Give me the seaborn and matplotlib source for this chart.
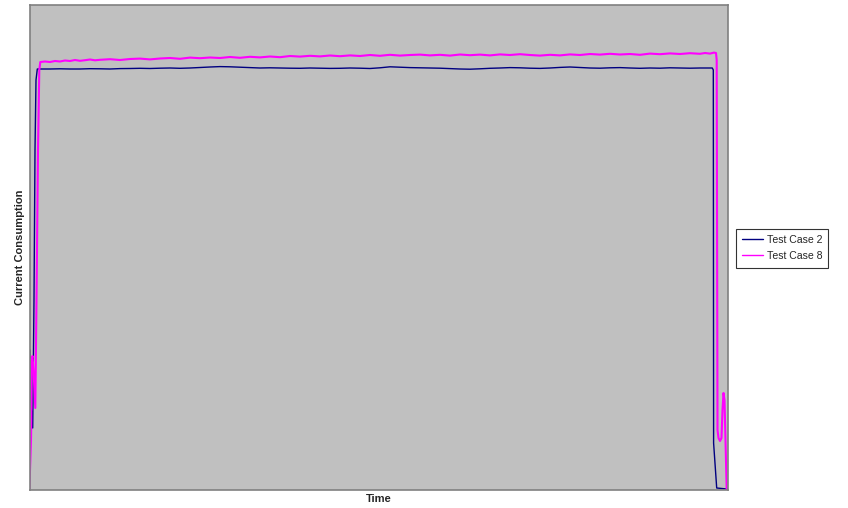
import numpy as np
import pandas as pd
import seaborn as sns
import matplotlib.pyplot as plt

# values, in screen-pixel units (x = time, y from the top)
blue_x = [30, 30.5, 32.7, 34, 35, 36, 37.3,
          40, 50, 60, 70, 80, 90, 100, 110, 120, 130, 140, 150, 160, 170, 180, 190,
          200, 210, 220, 230, 240, 250, 260, 270, 280, 290, 300, 310, 320, 330, 340,
          350, 360, 370, 380, 390, 400, 410, 420, 430, 440, 450, 460, 470, 480, 490,
          500, 510, 520, 530, 540, 550, 560, 570, 580, 590, 600, 610, 620, 630, 640,
          650, 660, 670, 680, 690, 700, 710,
          712.3, 713.3, 713.6, 716.7, 727]
blue_y = [350, 398, 428, 300, 150, 80, 69,
          69, 69, 68.8, 69, 69, 68.7, 68.8, 69, 68.6, 68.5, 68.3, 68.5, 68.2, 68, 68.3, 68,
          67.5, 67, 66.6, 66.8, 67.2, 67.6, 68, 67.8, 68, 68.2, 68.3, 68, 68.2, 68.4, 68.3,
          68, 68.2, 68.5, 67.8, 66.8, 67.2, 67.6, 67.8, 68, 68.2, 68.6, 69, 69.2, 68.8, 68.3,
          68, 67.6, 67.8, 68.2, 68.4, 68, 67.4, 67, 67.5, 68, 68.2, 67.8, 67.6, 68, 68.3,
          68, 68.2, 67.8, 68, 68.2, 68, 68,
          68, 70, 443, 488, 489]

pink_x = [29.3, 30, 31, 31.3, 31.5, 32.5, 33.5, 35.3, 36.5, 38, 39.3, 40.3,
          45, 50, 55, 60, 65, 70, 75, 80, 85, 90, 95, 100, 110, 120, 130, 140, 150,
          160, 170, 180, 190, 200, 210, 220, 230, 240, 250, 260, 270, 280, 290, 300,
          310, 320, 330, 340, 350, 360, 370, 380, 390, 400, 410, 420, 430, 440, 450,
          460, 470, 480, 490, 500, 510, 520, 530, 540, 550, 560, 570, 580, 590, 600,
          610, 620, 630, 640, 650, 660, 670, 680, 690, 700, 705, 710, 714,
          716, 716.7, 717.5, 718.5, 720, 721.5, 722.5, 723.5, 724.5, 725.5, 726.7]
pink_y = [490, 470, 440, 420, 360, 356, 370, 408, 300, 150, 70, 62,
          61.5, 62, 61, 61.5, 60.5, 61, 60, 60.8, 60.2, 59.5, 60.3, 59.8, 59.2, 60, 59, 58.6, 59.4,
          58.5, 58, 58.8, 57.6, 58.2, 57.5, 58, 57, 57.8, 56.8, 57.4, 56.5, 57.2, 56, 56.6,
          55.8, 56.4, 55.5, 56.2, 55.4, 56, 55, 55.8, 54.8, 55.6, 55, 54.6, 55.4, 54.8, 55.6,
          54.5, 55.2, 54.6, 55.4, 54.4, 55, 54.2, 55, 55.6, 54.8, 55.4, 54.4, 55, 54, 54.6,
          53.8, 54.5, 54, 54.8, 53.6, 54.2, 53.4, 54, 53.2, 53.8, 53, 53.6, 52.6,
          53, 60, 430, 438, 441, 438, 410, 393, 400, 440, 490]

names = ["Test Case 2", "Test Case 8"]
colors = ["#000080", "#FF00FF"]

df = pd.concat([
    pd.DataFrame({"Time": np.array(blue_x) - 29.5, "Current": 490 - np.array(blue_y), "series": names[0]}),
    pd.DataFrame({"Time": np.array(pink_x) - 29.5, "Current": 490 - np.array(pink_y), "series": names[1]}),
], ignore_index=True)

sns.set_style("white")
plt.rcParams['font.family'] = ['Liberation Sans', 'DejaVu Sans']

fig = plt.figure(figsize=(8.48, 5.08), dpi=100)
ax = fig.add_axes([29.5 / 848, 18 / 508, 698 / 848, 485 / 508])
ax.set_facecolor("#C0C0C0")

sns.lineplot(data=df, x="Time", y="Current", hue="series", palette=colors,
             estimator=None, sort=False, ax=ax, linewidth=1.0)
for line, lw in zip(ax.lines, [1.0, 1.5]):
    line.set_linewidth(lw)

ax.set_xlim(0, 698)
ax.set_ylim(0, 485)
ax.set_xticks([])
ax.set_yticks([])
for s in ax.spines.values():
    s.set_color("#808080")
    s.set_linewidth(1.2)

ax.set_xlabel("Time", fontsize=8, fontweight="bold", labelpad=3)
ax.set_ylabel("Current Consumption", fontsize=8, fontweight="bold", labelpad=3)

handles, labels = ax.get_legend_handles_labels()
for h in handles:
    h.set_linewidth(1.0)
ax.get_legend().remove()
leg = fig.legend(handles, labels, loc="center left", bbox_to_anchor=(736 / 848, 1 - 248 / 508),
                 frameon=True, fancybox=False, fontsize=7.6, handlelength=2.0,
                 borderpad=0.6, labelspacing=0.6, handletextpad=0.3, borderaxespad=0)
leg.get_frame().set_edgecolor("black")
leg.get_frame().set_linewidth(0.8)

fig.savefig("out.png", dpi=100)
